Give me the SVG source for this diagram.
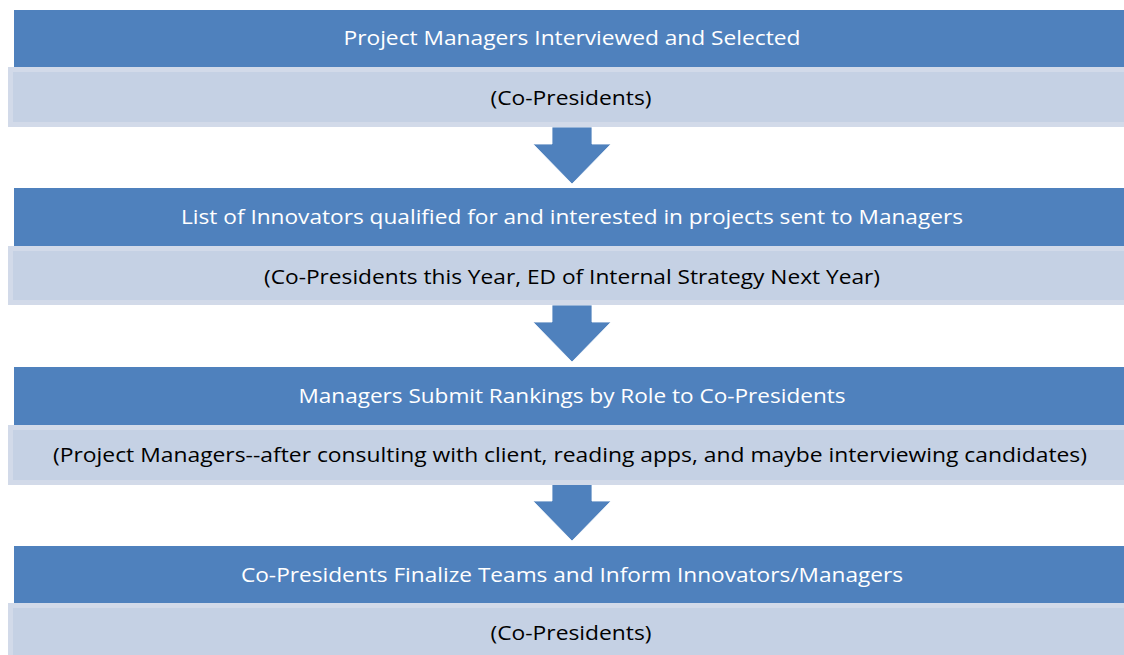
<svg xmlns="http://www.w3.org/2000/svg" width="1124" height="655" viewBox="0 0 1124 655">
<defs>
<style>
.hdr{fill:#4F81BD}
.sub-o{fill:#D2DAE9}
.sub-i{fill:#C5D1E4}
.arrow{fill:#4F81BD;stroke:#ffffff;stroke-width:0.8}
.th{font-family:"Open Sans","Liberation Sans",Arial,sans-serif;font-size:20px;fill:#ffffff;text-anchor:middle}
.ts{font-family:"Open Sans","Liberation Sans",Arial,sans-serif;font-size:20px;fill:#000000;text-anchor:middle}
</style>
<polygon id="arr" points="552,0 592,0 592,17 611,17 572,57 533,17 552,17"/>
</defs>
<rect width="1124" height="655" fill="#ffffff"/>

<g id="connectors">
<use href="#arr" class="arrow" transform="translate(0,127)"/>
<use href="#arr" class="arrow" transform="translate(0,305)"/>
<use href="#arr" class="arrow" transform="translate(0,484)"/>
</g>

<g id="step1">
<rect class="hdr" x="14" y="10" width="1115" height="57"/>
<text class="th" x="572" y="45" textLength="457" lengthAdjust="spacingAndGlyphs">Project Managers Interviewed and Selected</text>
</g>
<g id="step1-role">
<rect class="sub-o" x="8" y="67" width="1125" height="60"/>
<rect class="sub-i" x="13" y="72" width="1120" height="50"/>
<text class="ts" x="571" y="105" textLength="161" lengthAdjust="spacingAndGlyphs">(Co-Presidents)</text>
</g>

<g id="step2">
<rect class="hdr" x="14" y="188" width="1115" height="58"/>
<text class="th" x="572" y="224" textLength="782" lengthAdjust="spacingAndGlyphs">List of Innovators qualified for and interested in projects sent to Managers</text>
</g>
<g id="step2-role">
<rect class="sub-o" x="8" y="246" width="1125" height="59"/>
<rect class="sub-i" x="13" y="251" width="1120" height="49"/>
<text class="ts" x="572" y="284" textLength="616" lengthAdjust="spacingAndGlyphs">(Co-Presidents this Year, ED of Internal Strategy Next Year)</text>
</g>

<g id="step3">
<rect class="hdr" x="14" y="367" width="1115" height="58"/>
<text class="th" x="572" y="403" textLength="547" lengthAdjust="spacingAndGlyphs">Managers Submit Rankings by Role to Co-Presidents</text>
</g>
<g id="step3-role">
<rect class="sub-o" x="8" y="425" width="1125" height="60"/>
<rect class="sub-i" x="13" y="430" width="1120" height="50"/>
<text class="ts" x="570" y="462" textLength="1034" lengthAdjust="spacingAndGlyphs">(Project Managers--after consulting with client, reading apps, and maybe interviewing candidates)</text>
</g>

<g id="step4">
<rect class="hdr" x="14" y="546" width="1115" height="57"/>
<text class="th" x="572" y="582" textLength="662" lengthAdjust="spacingAndGlyphs">Co-Presidents Finalize Teams and Inform Innovators/Managers</text>
</g>
<g id="step4-role">
<rect class="sub-o" x="8" y="603" width="1125" height="60"/>
<rect class="sub-i" x="13" y="608" width="1120" height="55"/>
<text class="ts" x="571" y="640" textLength="161" lengthAdjust="spacingAndGlyphs">(Co-Presidents)</text>
</g>
</svg>
